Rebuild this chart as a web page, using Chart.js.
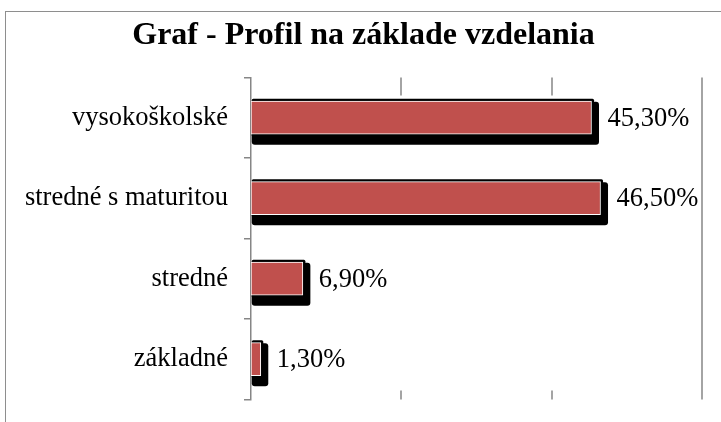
<!DOCTYPE html>
<html lang="sk">
<head>
<meta charset="utf-8" />
<title>Graf - Profil na základe vzdelania</title>
<script src="https://cdn.jsdelivr.net/npm/chart.js@4.4.0/dist/chart.umd.min.js"></script>
<style>
  html, body { margin: 0; padding: 0; background: #fff; overflow: hidden; }
  .frame {
    position: absolute; left: 5px; top: 11px;
    width: 800px; height: 500px;
    border: 1.5px solid #8e8e8e;
  }
  .wrap { position: absolute; left: 0; top: 0; width: 721px; height: 422px; }
</style>
</head>
<body>
<div class="frame"></div>
<div class="wrap"><canvas id="chart"></canvas></div>

<script>
  const TITLE = 'Graf - Profil na základe vzdelania';
  const categories = ['vysokoškolské', 'stredné s maturitou', 'stredné', 'základné'];
  const percents = [45.3, 46.5, 6.9, 1.3];
  const axisTicks = [0, 20, 40, 60];

  const FONT = '"Liberation Serif", "Times New Roman", serif';
  const BAR_RED = '#c0504d';
  const GRID = '#868686';

  function fmt(v) {
    return v.toFixed(2).replace('.', ',') + '%';
  }

  // Excel-like look: black outline + dropped shadow behind each bar,
  // short grid stubs at top/bottom, value labels to the right
  const barDecor = {
    id: 'barDecor',
    beforeDatasetsDraw(chart) {
      const ctx = chart.ctx;
      const area = chart.chartArea;
      const xs = chart.scales.x;
      ctx.save();
      ctx.strokeStyle = GRID;
      ctx.lineWidth = 1.5;
      axisTicks.forEach((v, i) => {
        if (i === 0) return;
        const px = Math.round(xs.getPixelForValue(v));
        ctx.beginPath();
        if (i === axisTicks.length - 1) {
          ctx.moveTo(px, area.top);
          ctx.lineTo(px, area.bottom);
        } else {
          ctx.moveTo(px, area.top);
          ctx.lineTo(px, area.top + 18);
          ctx.moveTo(px, area.bottom - 9);
          ctx.lineTo(px, area.bottom);
        }
        ctx.stroke();
      });

      const rr = (x, y, w, h, r) => {
        ctx.beginPath();
        if (ctx.roundRect) ctx.roundRect(x, y, w, h, r);
        else ctx.rect(x, y, w, h);
        ctx.fill();
      };
      ctx.fillStyle = '#000';
      chart.getDatasetMeta(0).data.forEach(bar => {
        const p = bar.getProps(['x', 'y', 'base', 'height'], true);
        const left = p.base + 0.75;
        const top = p.y - p.height / 2 - 2.5;
        const bottom = p.y + p.height / 2 + 2.5;
        const right = p.x + 2.5;
        rr(left, top + 3, right + 5 - left, bottom + 8 - top - 3, 3);
        rr(left, top, right - left, bottom - top, 1.5);
      });
      ctx.restore();
    },
    afterDatasetsDraw(chart) {
      const ctx = chart.ctx;
      ctx.save();
      ctx.font = '26.5px ' + FONT;
      ctx.fillStyle = '#000';
      ctx.textBaseline = 'middle';
      ctx.textAlign = 'left';
      chart.getDatasetMeta(0).data.forEach((bar, i) => {
        ctx.fillText(fmt(percents[i]), bar.x + 16, bar.y + 1);
      });
      ctx.restore();
    }
  };

  new Chart(document.getElementById('chart'), {
    type: 'bar',
    data: {
      labels: categories,
      datasets: [{
        data: percents,
        backgroundColor: BAR_RED,
        borderColor: '#ffffff',
        borderWidth: 1,
        borderSkipped: false,
        barThickness: 33
      }]
    },
    options: {
      indexAxis: 'y',
      responsive: true,
      maintainAspectRatio: false,
      animation: false,
      devicePixelRatio: 1,
      layout: { padding: { left: 25, right: 19, top: 0, bottom: 22 } },
      plugins: {
        legend: { display: false },
        tooltip: { enabled: false },
        title: {
          display: true,
          text: TITLE,
          color: '#000',
          font: { family: FONT, size: 32, weight: 'bold' },
          padding: { top: 17, bottom: 22 }
        }
      },
      scales: {
        x: {
          type: 'linear',
          display: false,
          min: 0,
          max: 60,
          ticks: { stepSize: 20 }
        },
        y: {
          offset: true,
          afterFit(scale) { scale.width = 226; },
          grid: {
            offset: true,
            drawOnChartArea: false,
            drawTicks: true,
            tickLength: 7,
            color: GRID,
            lineWidth: 1.5
          },
          border: { display: true, color: GRID, width: 1.5 },
          ticks: {
            color: '#000',
            padding: 16,
            font: { family: FONT, size: 26.5, lineHeight: 0.5 }
          }
        }
      }
    },
    plugins: [barDecor]
  });
</script>
</body>
</html>
